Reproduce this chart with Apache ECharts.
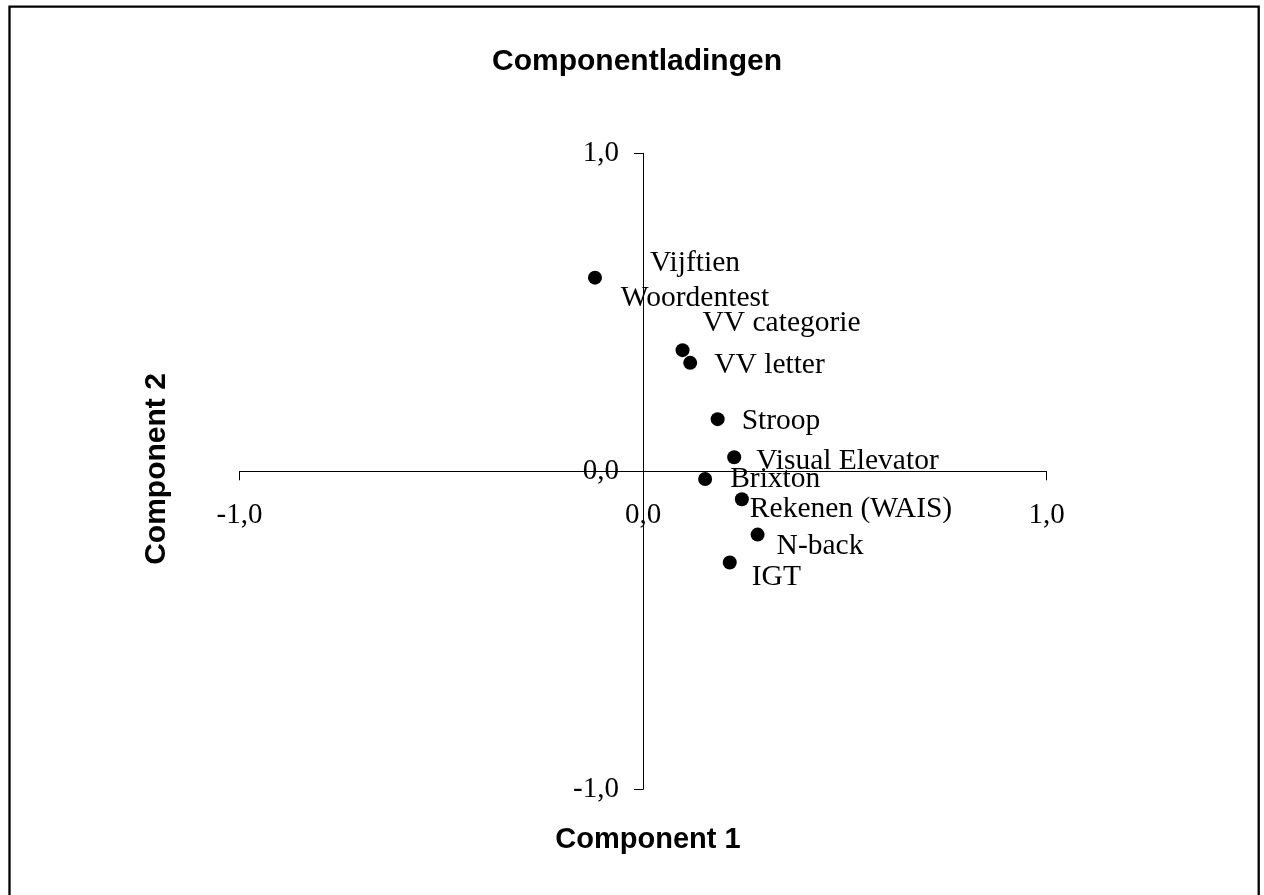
<!DOCTYPE html>
<html>
<head>
<meta charset="utf-8">
<script src="https://cdn.jsdelivr.net/npm/echarts@6/dist/echarts.min.js"></script>
<style>
  html, body { margin: 0; padding: 0; background: #fff; }
  #chart { width: 1264px; height: 895px; }
</style>
</head>
<body>
<div id="chart"></div>
<script>
// ---- data ----
const labels = ['Vijftien\nWoordentest', 'VV categorie', 'VV letter', 'Stroop', 'Visual Elevator', 'Brixton', 'Rekenen (WAIS)', 'N-back', 'IGT'];
const component1 = [-0.119, 0.098, 0.117, 0.185, 0.226, 0.154, 0.245, 0.284, 0.215];
const component2 = [0.609, 0.381, 0.341, 0.164, 0.044, -0.024, -0.088, -0.199, -0.287];
const tickValues = [-1, 0, 1];
const tickLabels = ['-1,0', '0,0', '1,0'];
const titleText = 'Componentladingen';
const xName = 'Component 1';
const yName = 'Component 2';

// ---- label placement (style only) ----
const labelOffsets = [[100, 3], [20, -27], [24, 2], [24, 2], [22, 4], [25, 0], [8, 10], [19, 12], [22, 15]];
const labelAligns = ['center', 'left', 'left', 'left', 'left', 'left', 'left', 'left', 'left'];

function fmt(v) {
  const i = tickValues.indexOf(Math.round(v * 1000) / 1000);
  return i >= 0 ? tickLabels[i] : '';
}

const serif = 'Liberation Serif';
const sans = 'Liberation Sans';

const gridLeft = 239.5, gridRight = 217.5, gridTop = 153.3, gridBottom = 105.7;
const plotW = 1264 - gridLeft - gridRight;
const plotH = 895 - gridTop - gridBottom;

const points = labels.map((l, i) => ({
  value: [component1[i], component2[i]],
  name: l,
  label: { offset: labelOffsets[i], align: labelAligns[i] }
}));

const chart = echarts.init(document.getElementById('chart'), null, { renderer: 'canvas' });
chart.setOption({
  animation: false,
  backgroundColor: '#fff',
  title: {
    text: titleText,
    left: 632,
    top: 41.5,
    textAlign: 'center',
    textStyle: { fontFamily: sans, fontWeight: 'bold', fontSize: 30, color: '#000' }
  },
  grid: { left: gridLeft, right: gridRight, top: gridTop, bottom: gridBottom, outerBoundsMode: 'none', containLabel: false },
  xAxis: {
    type: 'value', min: -1, max: 1, interval: 1,
    position: 'bottom',
    offset: -plotH / 2,
    axisLine: { onZero: false, lineStyle: { color: '#000', width: 1 } },
    axisTick: { show: true, inside: false, length: 9, lineStyle: { color: '#000', width: 1 } },
    axisLabel: { margin: 30, formatter: fmt, fontFamily: serif, fontSize: 29, color: '#000' },
    splitLine: { show: false }
  },
  yAxis: {
    type: 'value', min: -1, max: 1, interval: 1,
    position: 'left',
    offset: -plotW / 2,
    axisLine: { onZero: false, lineStyle: { color: '#000', width: 1 } },
    axisTick: { show: true, inside: false, length: 9, lineStyle: { color: '#000', width: 1 } },
    axisLabel: { margin: 24, formatter: fmt, fontFamily: serif, fontSize: 29, color: '#000' },
    splitLine: { show: false }
  },
  series: [{
    type: 'scatter',
    symbol: 'circle',
    symbolSize: 14,
    itemStyle: { color: '#000', opacity: 1 },
    label: {
      show: true,
      position: 'inside',
      verticalAlign: 'middle',
      formatter: p => p.name,
      fontFamily: serif,
      fontSize: 29.5,
      lineHeight: 35,
      color: '#000'
    },
    emphasis: { disabled: true },
    data: points
  }],
  graphic: [
    {
      type: 'rect', silent: true,
      shape: { x: 9.5, y: 6.7, width: 1249.2, height: 1000 },
      style: { fill: 'none', stroke: '#000', lineWidth: 2.3 }
    },
    {
      type: 'text', silent: true,
      x: 648, y: 840,
      style: { text: xName, textAlign: 'center', textVerticalAlign: 'middle', font: 'bold 29px "Liberation Sans"', fill: '#000' }
    },
    {
      type: 'text', silent: true,
      x: 157, y: 469, rotation: Math.PI / 2,
      style: { text: yName, textAlign: 'center', textVerticalAlign: 'middle', font: 'bold 30px "Liberation Sans"', fill: '#000' }
    }
  ]
});
</script>
</body>
</html>
